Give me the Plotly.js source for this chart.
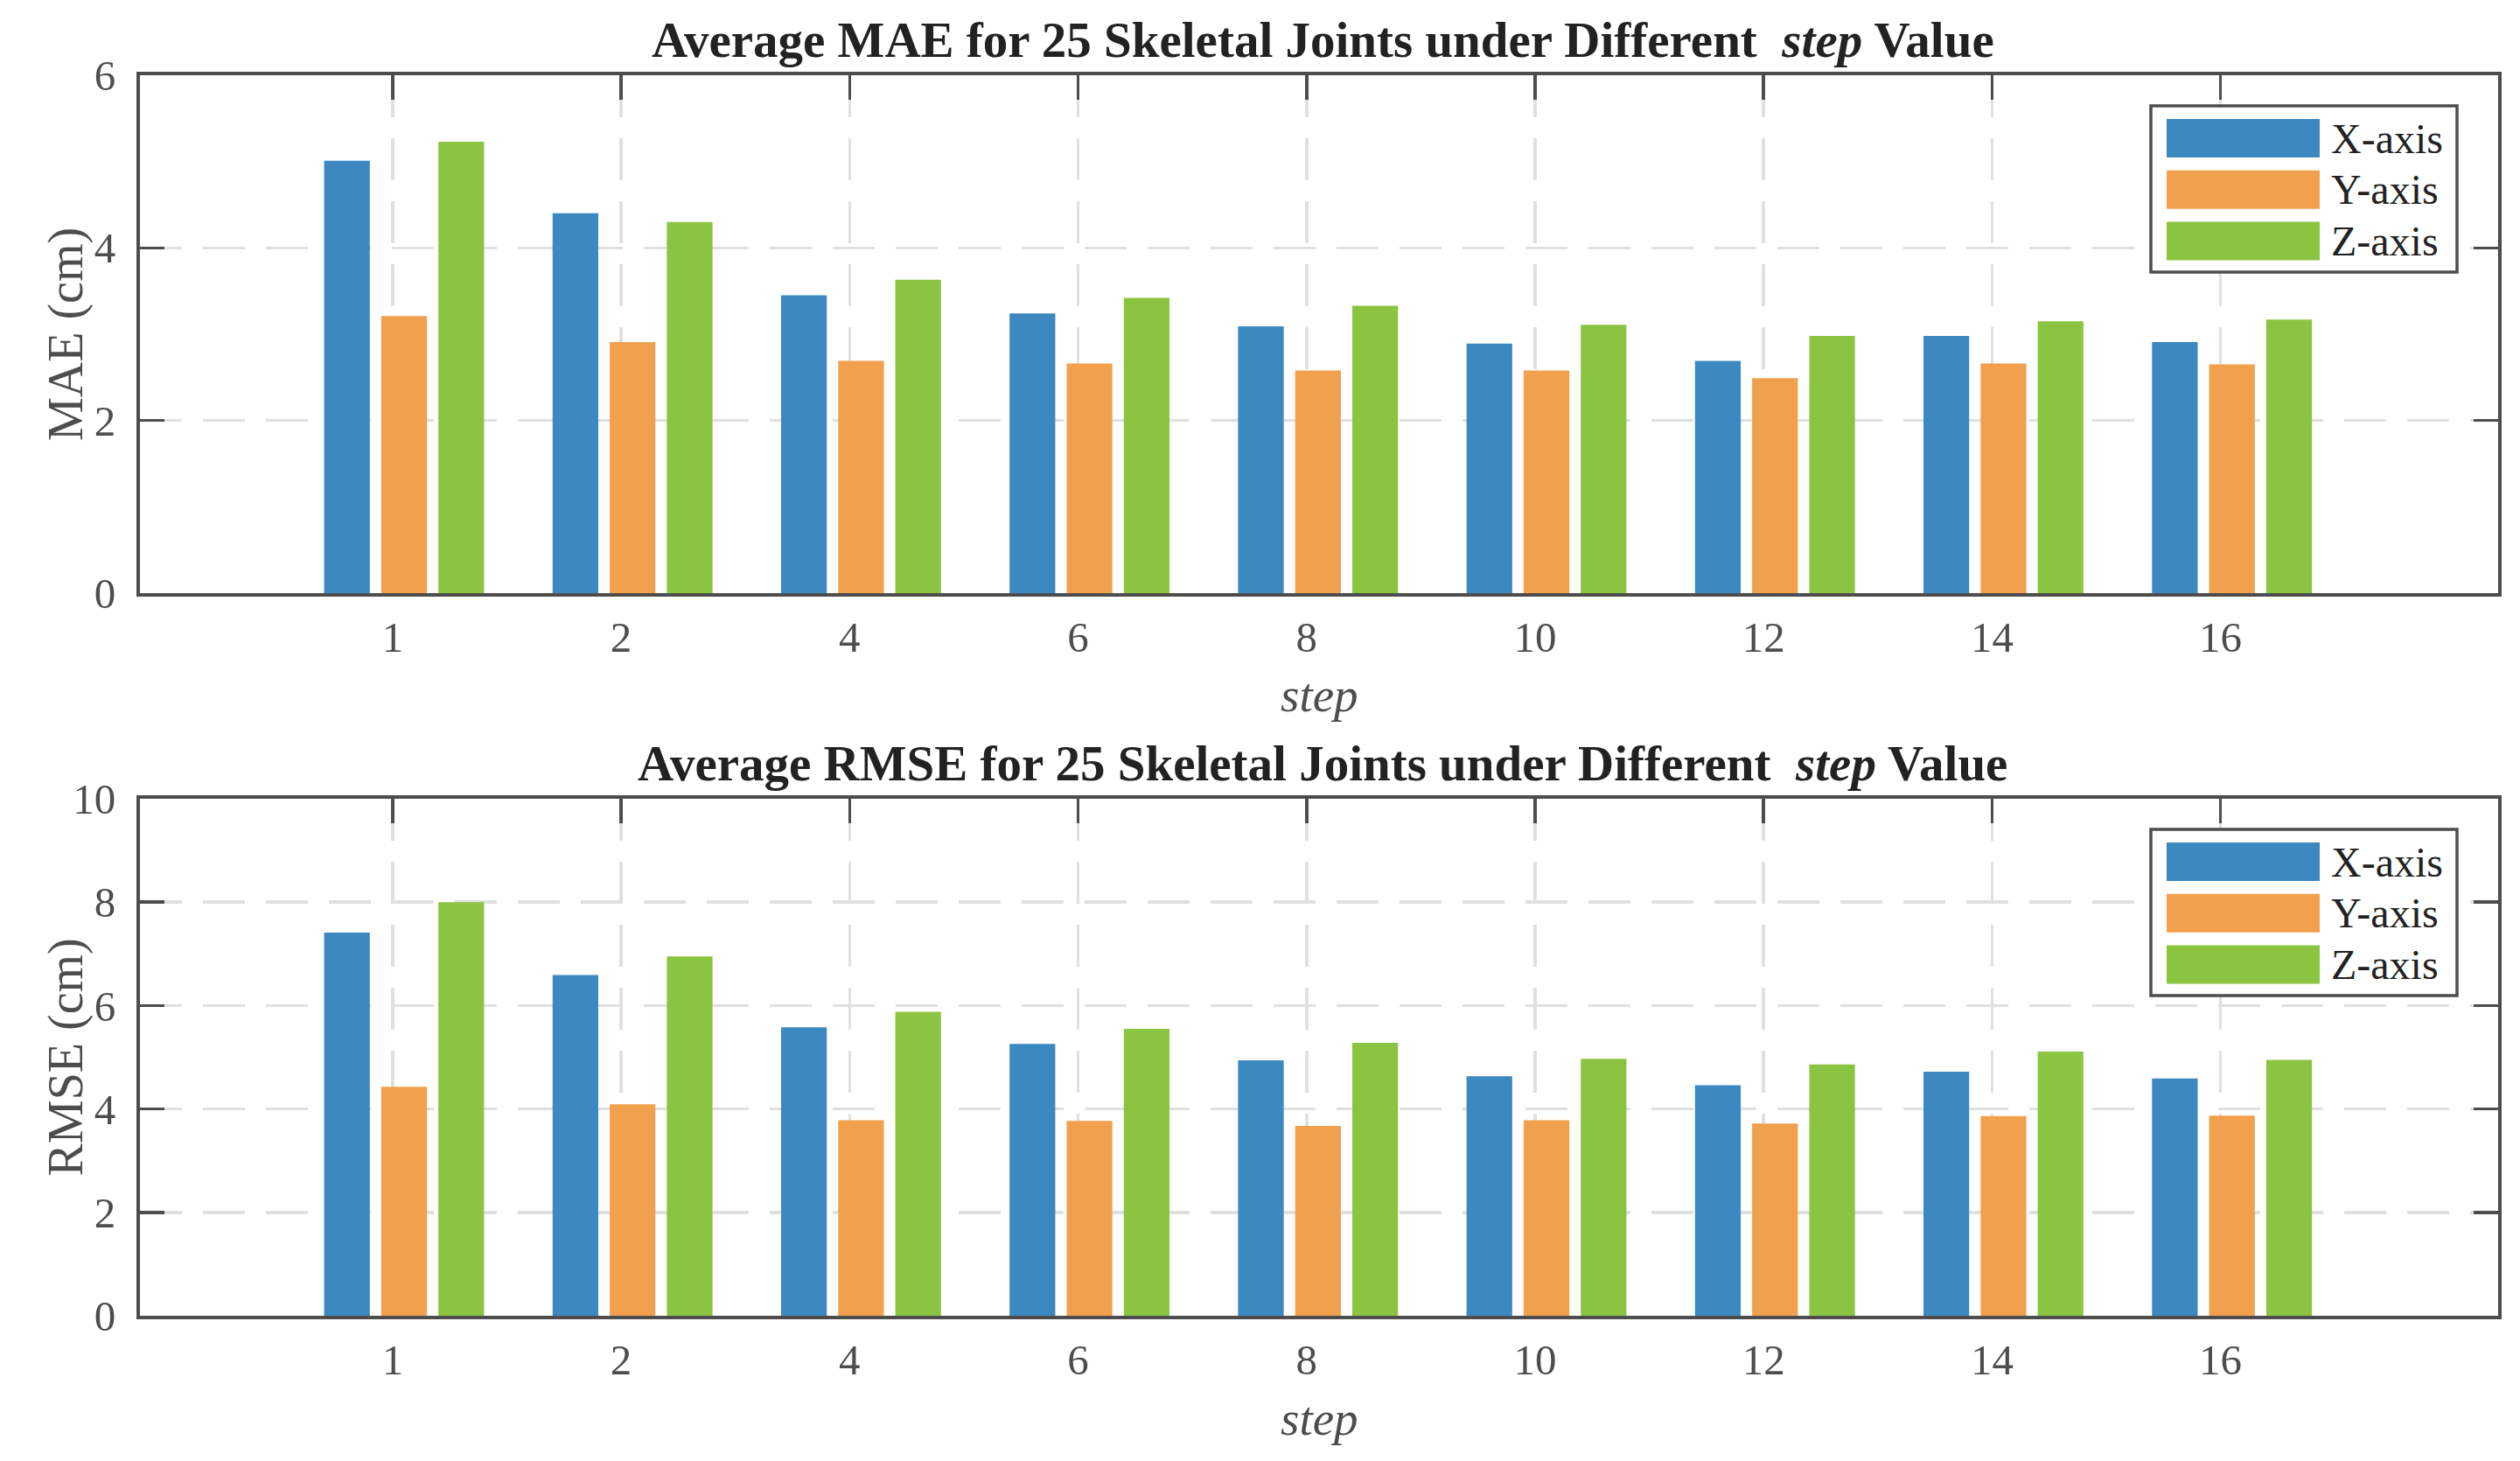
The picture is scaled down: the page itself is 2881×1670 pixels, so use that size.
<!DOCTYPE html>
<html>
<head>
<meta charset="utf-8">
<script src="https://cdn.plot.ly/plotly-3.0.1.min.js"></script>
<style>html,body{margin:0;padding:0;background:#fff;}#chart{width:2881px;height:1670px;}</style>
</head>
<body>
<div id="chart"></div>
<script>
// ---- data ----
const categories = ['1','2','4','6','8','10','12','14','16'];
const seriesNames = ['X-axis','Y-axis','Z-axis'];
const maeX  = [5.01, 4.40, 3.45, 3.24, 3.09, 2.89, 2.69, 2.98, 2.91];
const maeY  = [3.21, 2.91, 2.69, 2.66, 2.58, 2.58, 2.49, 2.66, 2.65];
const maeZ  = [5.23, 4.30, 3.63, 3.42, 3.33, 3.11, 2.98, 3.15, 3.17];
const rmseX = [7.41, 6.59, 5.58, 5.26, 4.94, 4.63, 4.46, 4.72, 4.59];
const rmseY = [4.43, 4.09, 3.78, 3.77, 3.67, 3.78, 3.72, 3.86, 3.87];
const rmseZ = [8.00, 6.95, 5.88, 5.55, 5.28, 4.97, 4.86, 5.11, 4.95];
const maeTicks  = [0, 2, 4, 6];
const rmseTicks = [0, 2, 4, 6, 8, 10];
const titles = [
  '<b>Average MAE for 25 Skeletal Joints under Different  <i>step</i> Value</b>',
  '<b>Average RMSE for 25 Skeletal Joints under Different  <i>step</i> Value</b>'
];
const yTitles = ['MAE (cm)', 'RMSE (cm)'];
const xTitle = 'step';

// ---- style ----
const W = 2881, H = 1670;
const colors = ['#3B89C0', '#F1A04E', '#8BC441'];
const offsets = [-0.30, -0.05, 0.20];
const barW = 0.20;
const axisColor = '#4d4d4d';
const FONT = '"Liberation Serif", "Times New Roman", serif';
const px = x => x / W;
const py = y => 1 - y / H;

const plots = [
  {top: 86, bottom: 678, vals: [maeX, maeY, maeZ], ticks: maeTicks, range: [0, 6]},
  {top: 913, bottom: 1504, vals: [rmseX, rmseY, rmseZ], ticks: rmseTicks, range: [0, 10]}
];

const traces = [];
const layout = {
  width: W, height: H,
  margin: {l: 0, r: 0, t: 0, b: 0},
  paper_bgcolor: '#fff', plot_bgcolor: '#fff',
  barmode: 'overlay',
  showlegend: false,
  font: {family: FONT, color: axisColor},
  annotations: [], shapes: []
};

plots.forEach((p, k) => {
  const xa = k === 0 ? 'x' : 'x2';
  const ya = k === 0 ? 'y' : 'y2';
  p.vals.forEach((v, s) => {
    traces.push({
      type: 'bar', x: categories, y: v, name: seriesNames[s],
      xaxis: xa, yaxis: ya,
      offset: offsets[s], width: barW,
      marker: {color: colors[s], line: {width: 0}},
      hoverinfo: 'x+y+name'
    });
  });
  const common = {
    showline: true, linecolor: axisColor, linewidth: 4, mirror: 'ticks',
    ticks: 'inside', ticklen: 28, tickwidth: 3.5, tickcolor: axisColor,
    showgrid: true, gridcolor: '#e0e0e0', gridwidth: 3.5, griddash: '48px,24px',
    zeroline: false, layer: 'below traces', automargin: false,
    tickfont: {family: FONT, size: 49, color: axisColor}, fixedrange: true
  };
  layout[k === 0 ? 'xaxis' : 'xaxis2'] = Object.assign({}, common, {
    type: 'category', categoryorder: 'array', categoryarray: categories,
    range: [-1.106, 9.215], domain: [px(160), px(2856)], anchor: ya,
    ticklabelstandoff: 4
  });
  layout[k === 0 ? 'yaxis' : 'yaxis2'] = Object.assign({}, common, {
    range: p.range, tickvals: p.ticks, ticktext: p.ticks.map(String),
    domain: [py(p.bottom), py(p.top)], anchor: xa,
    ticklabelstandoff: 14
  });
  const dy = p.top - 86;
  // subplot title
  layout.annotations.push({
    xref: 'paper', yref: 'paper', x: px(1512), y: py(45 + dy),
    xanchor: 'center', yanchor: 'middle', showarrow: false,
    text: titles[k], font: {family: FONT, size: 57, color: '#222222'}
  });
  // x title
  layout.annotations.push({
    xref: 'paper', yref: 'paper', x: px(1508), y: py(794 + dy),
    xanchor: 'center', yanchor: 'middle', showarrow: false,
    text: '<i>' + xTitle + '</i>', font: {family: FONT, size: 55, color: axisColor}
  });
  // y title
  layout.annotations.push({
    xref: 'paper', yref: 'paper', x: px(75), y: py((p.top + p.bottom) / 2),
    xanchor: 'center', yanchor: 'middle', showarrow: false, textangle: -90,
    text: yTitles[k], font: {family: FONT, size: 56, color: axisColor}
  });
  // legend box
  layout.shapes.push({
    type: 'rect', xref: 'paper', yref: 'paper', layer: 'above',
    x0: px(2459), x1: px(2809), y0: py(311 + dy), y1: py(121 + dy),
    fillcolor: '#ffffff', line: {color: axisColor, width: 3.5}
  });
  seriesNames.forEach((nm, s) => {
    const cy = 158 + s * 58.75 + dy;
    layout.shapes.push({
      type: 'rect', xref: 'paper', yref: 'paper', layer: 'above',
      x0: px(2477), x1: px(2652), y0: py(cy + 22), y1: py(cy - 22),
      fillcolor: colors[s], line: {width: 0}
    });
    layout.annotations.push({
      xref: 'paper', yref: 'paper', x: px(2663), y: py(cy),
      xanchor: 'left', yanchor: 'middle', showarrow: false,
      text: nm, font: {family: FONT, size: 48, color: '#222222'}
    });
  });
});

Plotly.newPlot('chart', traces, layout, {displayModeBar: false, staticPlot: true});
</script>
</body>
</html>
